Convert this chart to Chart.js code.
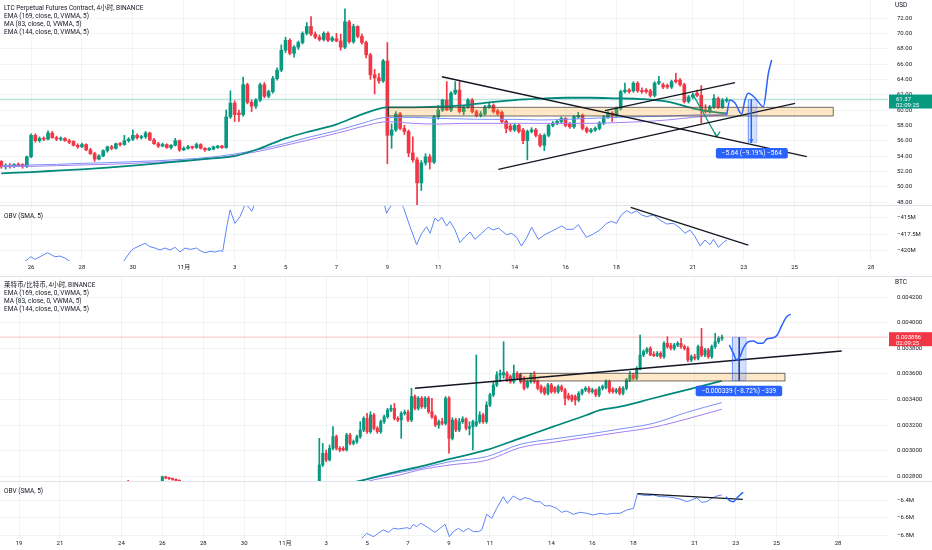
<!DOCTYPE html>
<html>
<head>
<meta charset="utf-8">
<title>LTC / LTCBTC 4h</title>
<script src="https://cdn.jsdelivr.net/npm/chart.js@4.4.1/dist/chart.umd.min.js"></script>
<style>
  html, body { margin:0; padding:0; background:#ffffff; }
  body { width:932px; height:550px; position:relative; overflow:hidden; font-family: Roboto, "Noto Sans CJK SC", sans-serif; }
  .pane { position:absolute; left:0; width:932px; }
  .pane canvas { display:block; }
  .txt { position:absolute; font-size:6.5px; line-height:8px; color:#131722; white-space:nowrap; }
  .sep { position:absolute; left:0; width:932px; height:1px; background:#e0e3eb; }
</style>
</head>
<body>
<div class="pane" style="top:0;height:206px"><canvas id="ltcPriceC"></canvas></div>
<div class="pane" style="top:206px;height:71px"><canvas id="ltcObvC"></canvas></div>
<div class="pane" style="top:277px;height:205px"><canvas id="btcPriceC"></canvas></div>
<div class="pane" style="top:482px;height:68px"><canvas id="btcObvC"></canvas></div>
<div class="sep" style="top:205px"></div>
<div class="sep" style="top:276px"></div>
<div class="sep" style="top:481px"></div>
<div class="txt" style="left:4px;top:4px">LTC Perpetual Futures Contract, 4小时, BINANCE<br>EMA (169, close, 0, VWMA, 5)<br>MA (83, close, 0, VWMA, 5)<br>EMA (144, close, 0, VWMA, 5)</div>
<div class="txt" style="left:4px;top:212px">OBV (SMA, 5)</div>
<div class="txt" style="left:4px;top:281px">莱特币/比特币, 4小时, BINANCE<br>EMA (169, close, 0, VWMA, 5)<br>MA (83, close, 0, VWMA, 5)<br>EMA (144, close, 0, VWMA, 5)</div>
<div class="txt" style="left:4px;top:487px">OBV (SMA, 5)</div>
<div class="txt" style="left:895px;top:1px">USD</div>
<div class="txt" style="left:895px;top:278px">BTC</div>
<script>
// ---------- DATA (day numbers: Oct d = d, Nov d = 31 + d) ----------
const ltcTickDays   = [26,28,30,32,34,36,38,40,42,45,47,49,52,54,56,59];
const ltcTickLabels = ['26','28','30','11月','3','5','7','9','11','14','16','18','21','23','25','28'];
const btcTickDays   = [19,21,24,26,28,30,32,34,36,38,40,42,45,47,49,52,54,56,59];
const btcTickLabels = ['19','21','24','26','28','30','11月','3','5','7','9','11','14','16','18','21','23','25','28'];
const ltcPriceTicks = [48,50,52,54,56,58,60,62,64,66,68,70,72];
const ltcObvTicks   = [-420,-417.5,-415];
const btcPriceTicks = [0.0028,0.003,0.0032,0.0034,0.0036,0.0038,0.004,0.0042];
const btcObvTicks   = [-6.8,-6.6,-6.4];

// LTC 4h candles [open, high, low, close], first candle Oct 24 20:00
const ltcStart = 24.8333;
const ltcCandles = [
[53.3,53.4,52.4,52.6],[52.6,53.0,52.3,52.8],[52.8,53.0,52.4,52.6],[52.6,53.0,52.5,52.9],[52.9,53.1,52.6,52.8],[52.9,53.0,52.4,52.6],
[52.6,54.0,52.5,53.9],[53.9,56.9,53.8,56.7],[56.7,56.9,55.8,56.0],[56.0,56.5,55.8,56.3],[56.3,56.5,56.0,56.2],[56.2,57.3,56.1,57.0],
[57.0,57.2,56.3,56.4],[56.4,56.6,56.0,56.2],[56.2,56.5,56.0,56.3],[56.3,56.4,55.9,56.0],[56.0,56.2,55.6,55.8],[55.9,56.0,55.3,55.4],
[55.4,55.6,55.0,55.2],[55.2,55.7,55.1,55.5],[55.5,55.6,54.7,54.8],[54.8,55.0,54.2,54.3],[54.3,54.5,53.3,53.6],[53.6,54.2,53.5,54.0],
[54.0,54.8,53.9,54.7],[54.7,55.3,54.5,55.2],[55.2,55.4,54.8,55.0],[55.0,55.7,54.9,55.6],[55.6,55.8,55.3,55.5],[55.5,56.7,55.4,56.0],
[56.0,56.4,55.8,56.2],[56.2,57.4,56.0,56.7],[56.7,56.9,56.2,56.4],[56.4,56.7,56.2,56.5],[56.5,57.2,56.3,57.0],[57.0,57.1,56.0,56.1],
[56.1,56.3,55.5,55.6],[55.6,55.8,55.1,55.3],[55.3,55.7,55.2,55.5],[55.5,55.6,55.0,55.1],[55.1,55.5,54.9,55.4],[55.4,56.3,55.3,56.0],
[56.0,56.1,54.6,54.8],[54.8,55.2,54.7,55.0],[55.0,55.4,54.9,55.2],[55.2,55.3,54.9,55.1],[55.1,55.7,55.0,55.5],[55.5,55.6,54.9,55.0],
[55.0,55.1,54.6,54.8],[54.8,55.1,54.7,55.0],[54.9,55.3,54.8,55.2],[55.1,55.4,55.0,55.3],[55.3,55.4,55.0,55.1],[55.1,60.0,55.0,59.1],
[59.1,62.5,58.9,60.9],[60.9,61.2,58.5,59.4],[59.6,60.0,58.5,59.4],[59.4,64.3,59.2,63.3],[63.3,63.5,60.8,61.0],[61.0,61.3,59.8,60.5],
[60.5,61.5,60.2,61.3],[61.3,63.5,61.1,63.3],[63.3,63.6,61.6,61.8],[61.8,62.6,61.6,62.4],[62.4,64.4,62.2,64.1],[64.1,65.5,63.9,65.2],
[65.2,68.5,65.0,67.8],[67.8,69.5,67.5,69.1],[69.1,69.3,67.2,67.4],[67.4,68.4,66.9,68.2],[68.2,69.0,67.9,68.8],[68.8,70.2,68.6,70.0],
[70.0,71.4,69.8,70.9],[70.9,72.2,69.7,69.9],[69.9,70.2,69.3,69.5],[69.5,69.8,69.0,69.2],[69.2,70.2,69.0,70.0],[70.0,70.2,68.9,69.1],
[69.1,69.6,68.9,69.4],[69.3,70.0,68.9,69.0],[69.0,69.9,67.8,68.2],[68.2,73.2,68.0,71.5],[71.5,71.7,68.7,68.9],[68.9,71.2,68.7,70.9],
[70.9,71.0,69.4,69.6],[69.6,69.9,68.6,68.8],[68.8,69.0,66.8,67.2],[67.2,67.4,64.0,64.6],[64.6,65.3,62.1,64.2],[64.2,64.8,63.5,63.8],
[63.8,66.6,63.6,66.4],[66.4,68.8,53.0,56.7],[56.7,58.2,55.0,57.4],[57.4,59.8,57.2,59.5],[59.5,59.7,57.4,57.6],[57.6,58.0,56.8,57.2],
[57.2,57.4,53.9,54.4],[54.4,56.5,53.2,53.5],[53.5,53.8,47.4,50.5],[50.5,53.4,49.5,53.1],[53.1,54.3,52.8,53.9],[53.9,54.2,52.3,53.2],
[53.2,59.3,53.0,59.1],[59.1,60.6,58.8,60.0],[60.0,61.4,59.8,61.3],[61.3,63.7,59.9,60.0],[60.0,62.4,59.8,62.2],[62.2,63.7,62.0,62.6],
[62.6,63.7,59.6,59.8],[59.8,60.6,59.4,60.4],[60.4,61.5,60.2,61.3],[61.3,61.5,59.6,59.8],[59.8,60.0,59.1,59.3],[59.3,59.8,59.1,59.5],
[59.5,60.6,59.3,60.4],[60.4,60.9,60.2,60.6],[60.6,60.8,59.6,59.8],[59.9,60.1,59.3,59.5],[59.7,59.9,58.3,58.5],[58.5,58.7,57.0,57.6],
[57.9,58.2,57.2,57.4],[57.4,58.2,57.2,58.0],[58.0,58.2,57.0,57.2],[57.4,57.6,55.6,56.0],[56.0,57.4,53.5,57.2],[57.2,57.7,57.0,57.4],
[57.4,57.6,56.5,56.7],[56.7,56.9,55.2,55.4],[55.4,56.9,54.7,56.7],[56.7,58.2,56.5,58.0],[58.0,58.5,57.8,58.3],[58.3,58.7,58.1,58.5],
[58.5,59.1,58.3,58.9],[58.9,59.0,57.8,58.0],[58.2,58.4,57.6,57.8],[57.8,59.3,57.6,59.1],[59.1,59.7,58.9,59.3],[59.3,59.5,57.4,57.6],
[57.6,57.8,57.0,57.2],[57.2,57.6,57.0,57.4],[57.4,57.8,57.2,57.6],[57.6,58.5,57.4,58.3],[58.3,59.3,58.1,59.1],[59.1,59.8,58.9,59.6],
[59.6,59.8,58.5,59.3],[59.3,60.4,59.1,60.2],[60.2,62.6,60.0,62.4],[62.4,63.5,62.2,62.6],[62.6,62.8,62.2,62.4],[62.5,63.7,62.3,63.5],
[63.5,63.7,62.3,62.5],[62.5,62.9,62.2,62.4],[62.6,62.8,62.2,62.4],[62.5,62.7,61.7,61.9],[61.9,63.7,61.7,63.5],[63.5,64.4,63.3,63.7],
[63.3,63.5,62.8,63.0],[63.2,63.4,62.8,63.0],[63.0,63.9,62.8,63.7],[63.9,64.8,63.5,63.7],[63.9,64.1,63.1,63.3],[63.3,63.5,60.9,61.1],
[61.1,61.9,60.9,61.7],[61.7,62.2,61.5,62.0],[62.2,62.6,61.7,61.9],[61.9,63.2,58.3,60.0],[60.0,60.7,59.6,59.8],[59.8,60.6,59.6,60.4],
[60.4,62.0,60.2,61.5],[61.5,61.7,60.2,60.4],[60.4,61.5,60.2,61.3],[61.2,61.6,61.0,61.37]
];
const ltcMaDays = [24.83,26,27,28,29,30,31,32,33,34,35,36,37,38,39,40,41,42,43,44,45,46,47,48,49,50,51,52,53,53.33];
const ltcEma169 = [51.74,51.91,52.09,52.26,52.48,52.74,53.04,53.35,53.65,54.0,55.0,56.3,57.26,58.13,59.43,60.35,60.35,60.43,60.6,61.0,61.3,61.48,61.6,61.6,61.52,61.43,61.09,60.22,59.65,59.57];
const ltcMa83   = [52.74,52.83,52.91,53.04,53.13,53.26,53.39,53.57,53.83,54.26,54.87,55.65,56.52,57.3,58.26,59.04,59.04,58.91,58.83,58.78,58.78,58.7,58.78,58.91,59.04,59.13,59.22,59.35,59.4,59.43];
const ltcEma144 = [52.61,52.65,52.74,52.83,52.91,53.04,53.22,53.39,53.65,54.09,54.65,55.39,56.17,56.96,57.83,58.48,58.26,58.17,58.26,58.26,58.26,58.26,58.26,58.26,58.35,58.48,58.7,59.04,59.3,59.35];
const ltcObvDays = [25.57,25.83,25.985,26.155,26.35,26.65,26.94,27.14,27.33,27.53,27.92,28.71,29.36,29.63,29.95,30.08,30.48,30.67,30.87,31.07,31.26,31.46,31.66,31.85,32.05,32.25,32.51,32.64,32.83,33.03,33.23,33.42,33.53,33.69,33.82,34.01,34.21,34.41,34.54,34.67,34.80,35.26,36.57,37.88,39.19,39.84,39.97,40.10,40.37,40.63,40.89,41.15,41.35,41.54,41.68,41.87,42.00,42.14,42.33,42.46,42.66,42.85,43.05,43.25,43.44,43.70,43.96,44.16,44.36,44.68,44.88,45.08,45.27,45.47,45.67,45.93,46.19,46.45,46.85,47.04,47.30,47.50,47.82,48.09,48.35,48.61,48.81,49.00,49.20,49.40,49.59,49.79,49.99,50.19,50.45,50.71,50.97,51.24,51.50,51.69,51.89,52.09,52.29,52.48,52.68,52.81,53.01,53.21,53.34];
const ltcObv = [-422.0,-421.4,-420.9,-421.3,-420.9,-420.3,-420.9,-420.8,-421.1,-421.6,-422.3,-422.8,-422.0,-421.6,-419.9,-419.6,-418.9,-419.4,-419.6,-419.9,-419.6,-419.9,-419.5,-420.2,-419.6,-419.8,-419.6,-420.0,-420.3,-420.1,-420.2,-420.0,-420.1,-416.4,-413.9,-415.9,-414.9,-413.1,-413.4,-414.1,-412.8,-411.5,-410.5,-410.0,-410.8,-412.5,-414.4,-413.5,-412.5,-413.5,-416.4,-419.1,-417.4,-416.4,-417.4,-415.1,-415.6,-415.0,-416.3,-415.6,-416.9,-418.8,-417.9,-417.2,-418.3,-417.4,-416.5,-416.9,-416.6,-417.6,-417.4,-418.0,-419.3,-418.1,-416.5,-418.3,-417.6,-417.1,-416.3,-416.8,-416.8,-416.1,-418.0,-417.5,-416.9,-415.9,-415.6,-415.9,-414.6,-414.0,-414.4,-414.05,-414.65,-414.9,-414.65,-415.4,-416.0,-415.9,-416.6,-417.4,-416.9,-417.9,-419.3,-418.4,-419.1,-418.3,-419.5,-418.7,-418.4];
// LTC drawings: [[day, price], ...]
const ltcTrendLines = [
  [[42.14,64.34],[56.48,53.91]],
  [[44.36,52.26],[56.02,60.87]],
  [[48.55,59.91],[53.66,63.56]]
];
const ltcZone = [40.04, 57.52, 59.22, 60.35];            // day from, day to, price low, price high
const ltcArrow = [[52.02,61.96],[52.94,56.52]];
const ltcArrowHead = [[52.86,57.05],[52.94,56.52],[53.07,57.17]];
const ltcPath = [[53.33,59.35],[53.46,61.3],[53.66,60.91],[53.92,59.48],[54.05,61.3],[54.18,62.18],[54.45,61.57],[54.77,60.43],[54.97,64.79],[55.10,66.52]];
const ltcMeasure = [54.18, 54.52, 55.73, 61.37];
const ltcMeasureDay = 54.30;
const ltcMeasureLabel = {text:'−5.64 (−9.19%) −564', x:54.32, y:54.35};
const ltcObvLine = [[49.56,-413.5],[54.18,-419.15]];

// LTC/BTC 4h candles
const btcEarlyTimes = [24.333,26.0,26.167,26.333,26.5,26.667,26.833];
const btcEarlyCandles = [
[0.002760,0.002768,0.002740,0.002750],[0.002730,0.002800,0.002720,0.002796],[0.002795,0.002800,0.002780,0.002786],
[0.002788,0.002792,0.002775,0.002780],[0.002782,0.002786,0.002768,0.002774],[0.002776,0.002780,0.002760,0.002766],
[0.002768,0.002772,0.002740,0.002750]
];
const btcStart = 33.6667;
const btcCandles = [
[0.002710,0.003096,0.002680,0.002888],[0.002888,0.003057,0.002875,0.002979],[0.002979,0.003005,0.002914,0.002927],[0.002927,0.003044,0.002919,0.003018],
[0.003018,0.003187,0.003005,0.003109],[0.003109,0.003122,0.003005,0.003018],[0.003018,0.003031,0.002992,0.003005],[0.003018,0.003031,0.002997,0.003005],
[0.003005,0.003135,0.002997,0.003122],[0.003122,0.003135,0.003044,0.003057],[0.003057,0.003083,0.003044,0.003070],[0.003070,0.003122,0.003057,0.003109],
[0.003109,0.003226,0.003096,0.003161],[0.003161,0.003265,0.003148,0.003252],[0.003252,0.003291,0.003135,0.003148],[0.003148,0.003304,0.003135,0.003278],
[0.003278,0.003291,0.003161,0.003174],[0.003174,0.003187,0.003135,0.003148],[0.003148,0.003239,0.003135,0.003226],[0.003226,0.003278,0.003213,0.003265],
[0.003265,0.003330,0.003252,0.003317],[0.003317,0.003356,0.003304,0.003330],[0.003330,0.003369,0.003239,0.003252],[0.003252,0.003265,0.003226,0.003239],
[0.003239,0.003304,0.003096,0.003291],[0.003291,0.003317,0.003278,0.003300],[0.003300,0.003317,0.003226,0.003239],[0.003239,0.003487,0.003226,0.003422],
[0.003422,0.003435,0.003317,0.003330],[0.003330,0.003422,0.003317,0.003409],[0.003409,0.003422,0.003330,0.003343],[0.003343,0.003422,0.003330,0.003409],
[0.003409,0.003422,0.003291,0.003304],[0.003304,0.003409,0.003252,0.003265],[0.003265,0.003278,0.003187,0.003200],[0.003200,0.003239,0.003174,0.003226],
[0.003226,0.003252,0.003200,0.003213],[0.003213,0.003422,0.003200,0.003409],[0.003409,0.003422,0.002979,0.003096],[0.003096,0.003257,0.003083,0.003239],
[0.003239,0.003252,0.003148,0.003161],[0.003161,0.003252,0.003148,0.003226],[0.003226,0.003265,0.003213,0.003247],[0.003247,0.003257,0.003161,0.003174],
[0.003174,0.003226,0.003122,0.003187],[0.003187,0.003239,0.003005,0.003226],[0.003200,0.003747,0.003187,0.003226],[0.003226,0.003304,0.003213,0.003278],
[0.003278,0.003291,0.003213,0.003226],[0.003226,0.003382,0.003213,0.003356],[0.003356,0.003448,0.003343,0.003435],[0.003435,0.003539,0.003422,0.003513],
[0.003513,0.003617,0.003500,0.003591],[0.003591,0.003630,0.003539,0.003604],[0.003591,0.003851,0.003565,0.003610],[0.003604,0.003617,0.003539,0.003552],
[0.003578,0.003591,0.003526,0.003539],[0.003539,0.003669,0.003526,0.003604],[0.003604,0.003617,0.003552,0.003565],[0.003591,0.003604,0.003526,0.003539],
[0.003565,0.003578,0.003474,0.003487],[0.003500,0.003552,0.003487,0.003539],[0.003539,0.003604,0.003526,0.003591],[0.003591,0.003617,0.003526,0.003539],
[0.003544,0.003552,0.003474,0.003487],[0.003500,0.003513,0.003448,0.003461],[0.003487,0.003500,0.003435,0.003448],[0.003448,0.003526,0.003435,0.003513],
[0.003513,0.003526,0.003448,0.003461],[0.003492,0.003500,0.003448,0.003461],[0.003461,0.003513,0.003448,0.003500],[0.003500,0.003513,0.003461,0.003474],
[0.003474,0.003487,0.003356,0.003409],[0.003429,0.003448,0.003395,0.003409],[0.003429,0.003435,0.003382,0.003395],[0.003422,0.003435,0.003356,0.003395],
[0.003395,0.003461,0.003382,0.003448],[0.003448,0.003481,0.003435,0.003474],[0.003474,0.003500,0.003461,0.003487],[0.003487,0.003500,0.003448,0.003461],
[0.003461,0.003487,0.003448,0.003474],[0.003474,0.003481,0.003422,0.003435],[0.003435,0.003500,0.003422,0.003487],[0.003487,0.003513,0.003474,0.003500],
[0.003492,0.003552,0.003481,0.003539],[0.003539,0.003552,0.003448,0.003461],[0.003481,0.003492,0.003448,0.003461],[0.003461,0.003487,0.003448,0.003474],
[0.003487,0.003500,0.003435,0.003448],[0.003448,0.003500,0.003435,0.003487],[0.003487,0.003565,0.003474,0.003552],[0.003552,0.003617,0.003539,0.003591],
[0.003591,0.003604,0.003552,0.003565],[0.003565,0.003656,0.003552,0.003643],[0.003643,0.003903,0.003630,0.003747],[0.003747,0.003786,0.003734,0.003773],
[0.003773,0.003804,0.003760,0.003794],[0.003799,0.003812,0.003742,0.003747],[0.003752,0.003773,0.003734,0.003742],[0.003742,0.003773,0.003734,0.003760],
[0.003760,0.003773,0.003721,0.003734],[0.003734,0.003851,0.003721,0.003838],[0.003838,0.003890,0.003799,0.003812],[0.003820,0.003838,0.003786,0.003799],
[0.003799,0.003838,0.003786,0.003825],[0.003825,0.003851,0.003812,0.003838],[0.003838,0.003877,0.003799,0.003812],[0.003812,0.003825,0.003786,0.003799],
[0.003799,0.003812,0.003695,0.003708],[0.003708,0.003747,0.003695,0.003734],[0.003734,0.003752,0.003708,0.003721],[0.003721,0.003825,0.003708,0.003812],
[0.003812,0.003955,0.003734,0.003747],[0.003747,0.003799,0.003734,0.003786],[0.003786,0.003799,0.003721,0.003734],[0.003734,0.003825,0.003721,0.003812],
[0.003812,0.003916,0.003799,0.003851],[0.003851,0.003890,0.003838,0.003877],[0.003877,0.003903,0.003860,0.003886]
];
const btcEma169Days = [34.35,35.49,37.61,38.58,40.05,41.84,43.47,45.09,46.72,47.37,48.35,49.98,51.61,53.32];
const btcEma169     = [0.00272,0.002757,0.002841,0.002875,0.002935,0.003005,0.003096,0.003187,0.003278,0.003317,0.003343,0.003409,0.003474,0.003544];
const btcMa83Days   = [34.35,35.49,37.61,38.58,40.05,41.84,43.47,45.09,46.72,48.35,49.98,51.61,53.32];
const btcMa83       = [0.002705,0.002757,0.00283,0.00286,0.002914,0.002953,0.003049,0.003091,0.003127,0.003169,0.003213,0.003299,0.003375];
const btcEma144Days = [35.16,35.97,37.61,38.58,40.05,41.84,43.47,45.09,46.72,48.35,49.98,51.61,53.32];
const btcEma144     = [0.002705,0.002757,0.00281,0.00285,0.002888,0.002924,0.003023,0.003065,0.003104,0.003143,0.003182,0.003247,0.003323];
const btcObvDays = [35.5,35.82,35.98,36.31,36.55,36.79,37.04,37.28,37.53,37.77,37.97,38.10,38.26,38.42,38.62,38.83,39.07,39.32,39.56,39.81,40.02,40.21,40.46,40.70,40.94,41.19,41.43,41.60,41.84,42.09,42.33,42.65,42.85,43.14,43.47,43.71,43.96,44.20,44.45,44.69,44.93,45.26,45.50,45.75,46.07,46.40,46.73,47.05,47.38,47.70,48.03,48.35,48.68,49.01,49.20,49.41,49.66,49.98,50.31,50.63,50.96,51.28,51.61,51.85,52.10,52.34,52.59,52.83,53.08,53.32];
const btcObv = [-6.88,-6.816,-6.777,-6.816,-6.777,-6.739,-6.766,-6.720,-6.728,-6.720,-6.713,-6.728,-6.675,-6.701,-6.663,-6.690,-6.728,-6.766,-6.720,-6.675,-6.816,-6.758,-6.720,-6.758,-6.720,-6.758,-6.758,-6.739,-6.560,-6.606,-6.492,-6.359,-6.435,-6.351,-6.397,-6.370,-6.385,-6.416,-6.416,-6.465,-6.461,-6.492,-6.537,-6.522,-6.560,-6.537,-6.549,-6.568,-6.549,-6.560,-6.549,-6.549,-6.511,-6.492,-6.328,-6.339,-6.347,-6.339,-6.359,-6.359,-6.370,-6.385,-6.416,-6.397,-6.370,-6.423,-6.416,-6.377,-6.351,-6.339];
const btcTrendLine = [[38.34,0.003487],[59.18,0.003778]];
const btcZone = [43.47, 56.41, 0.003544, 0.003604];
const btcPath = [[53.69,0.003825],[53.89,0.003760],[54.05,0.003708],[54.21,0.003734],[54.37,0.003799],[54.62,0.003851],[54.86,0.003856],[55.11,0.003838],[55.32,0.003838],[55.52,0.003872],[55.84,0.003882],[56.03,0.003903],[56.25,0.003976],[56.49,0.004046],[56.69,0.004065]];
const btcMeasure = [53.84, 54.51, 0.003547, 0.003886];
const btcMeasureDay = 54.175;
const btcMeasureLabel = {text:'−0.000339 (−8.72%) −339', x:54.16, y:0.003466};
const btcObvLine = [[49.2,-6.325],[54.35,-6.389]];
const btcObvPath = [[53.53,-6.359],[53.73,-6.408],[53.89,-6.416],[54.05,-6.377],[54.21,-6.339],[54.37,-6.309]];
const countdown = '02:09:25';

// ---------- RENDERING ----------
const FONT = 'Roboto, "Noto Sans CJK SC", sans-serif';
const GRID = 'rgba(42,46,57,0.06)';
const TEXT = '#131722';
const UP = '#089981', DOWN = '#f23645';
const DRAW_BLUE = '#2962ff';

const pts = (days, vals) => days.map((d, i) => ({x: d, y: vals[i]}));
const pairPts = arr => arr.map(p => ({x: p[0], y: p[1]}));
const rectPts = r => [{x:r[0],y:r[2]},{x:r[1],y:r[2]},{x:r[1],y:r[3]},{x:r[0],y:r[3]},{x:r[0],y:r[2]}];

function candleSets(times, candles, bodyW) {
  const colors = candles.map(c => c[3] >= c[0] ? UP : DOWN);
  return [
    {type:'bar', data: candles.map((c,i) => ({x: times[i], y: [c[2], c[1]]})), backgroundColor: colors,
     barThickness: 1, maxBarThickness: 1, grouped: false, order: 20},
    {type:'bar', data: candles.map((c,i) => ({x: times[i], y: [c[0], c[3]]})), backgroundColor: colors,
     barThickness: bodyW, maxBarThickness: bodyW, grouped: false, minBarLength: 1, order: 19}
  ];
}
function lineSet(data, color, width, extra) {
  return Object.assign({type:'line', data: data, borderColor: color, borderWidth: width, pointRadius: 0,
    pointHoverRadius: 0, fill: false, tension: 0, order: 5}, extra || {});
}
const smooth = {cubicInterpolationMode: 'monotone'};

const overlayPlugin = {
  id: 'overlay',
  afterDatasetsDraw(chart, args, opts) {
    const labels = (opts && opts.labels) || [];
    if (!labels.length) return;
    const ctx = chart.ctx, xs = chart.scales.x, ys = chart.scales.y;
    ctx.save();
    ctx.font = '6.5px ' + FONT;
    labels.forEach(l => {
      const cx = xs.getPixelForValue(l.x), cy = ys.getPixelForValue(l.y);
      const w = ctx.measureText(l.text).width + 12, h = 10.5;
      ctx.fillStyle = DRAW_BLUE;
      ctx.beginPath(); ctx.roundRect(cx - w / 2, cy - h / 2, w, h, 2); ctx.fill();
      ctx.fillStyle = '#ffffff'; ctx.textAlign = 'center'; ctx.textBaseline = 'middle';
      ctx.fillText(l.text, cx, cy + 0.5);
    });
    ctx.restore();
  },
  afterDraw(chart, args, opts) {
    const t = opts && opts.tag;
    if (!t) return;
    const ctx = chart.ctx, ca = chart.chartArea, ys = chart.scales.y;
    const py = ys.getPixelForValue(t.value);
    ctx.save();
    ctx.fillStyle = t.color;
    ctx.fillRect(ca.right + 1, py - 5, chart.width - ca.right - 1, 14);
    ctx.fillStyle = '#ffffff'; ctx.font = '6px ' + FONT; ctx.textBaseline = 'middle'; ctx.textAlign = 'left';
    ctx.fillText(t.lines[0], ca.right + 8, py);
    ctx.fillText(t.lines[1], ca.right + 8, py + 6);
    ctx.restore();
  }
};

function makeChart(id, o) {
  return new Chart(document.getElementById(id), {
    type: 'bar',
    data: { datasets: o.datasets },
    plugins: [overlayPlugin],
    options: {
      responsive: true, maintainAspectRatio: false, animation: false, events: [],
      layout: { padding: 0 },
      plugins: { legend: {display: false}, tooltip: {enabled: false}, overlay: o.overlay || {} },
      scales: {
        x: {
          type: 'linear', min: o.xMin, max: o.xMax, offset: false,
          grid: { color: GRID, drawTicks: false, offset: false },
          border: { display: false },
          ticks: { display: !!o.xLabels, autoSkip: false, maxRotation: 0, padding: o.xPad || 3, color: TEXT,
                   font: {family: FONT, size: 6}, callback: (v, i) => o.xLabels ? o.xLabels[i] : '' },
          afterBuildTicks: s => { s.ticks = o.xTicks.map(v => ({value: v})); },
          afterFit: s => { s.height = o.xHeight || 0; s.paddingLeft = 0; s.paddingRight = 0; }
        },
        y: {
          type: 'linear', position: 'right', min: o.yMin, max: o.yMax,
          grid: { color: GRID, drawTicks: false },
          border: { display: false },
          ticks: { padding: 9, color: TEXT, font: {family: FONT, size: 6}, callback: o.yFmt, autoSkip: false },
          afterBuildTicks: s => { s.ticks = o.yTicks.map(v => ({value: v})); },
          afterFit: s => { s.width = 44; s.paddingTop = 0; s.paddingBottom = 0; }
        }
      }
    }
  });
}

const ltcX = [24.78, 59.67], btcX = [18.072, 61.44];
const ltcTimes = ltcCandles.map((c, i) => ltcStart + i / 6);
const btcTimes = btcCandles.map((c, i) => btcStart + i / 6);
const ltcLast = ltcCandles[ltcCandles.length - 1][3];
const btcLast = btcCandles[btcCandles.length - 1][3];
const obvFmt = v => '−' + Math.abs(v) + 'M';

// Top: LTC price
makeChart('ltcPriceC', {
  xMin: ltcX[0], xMax: ltcX[1], xTicks: ltcTickDays,
  yMin: 47.48, yMax: 74.35, yTicks: ltcPriceTicks, yFmt: v => v.toFixed(2),
  overlay: { labels: [ltcMeasureLabel], tag: {value: ltcLast, color: UP, lines: [ltcLast.toFixed(2), countdown]} },
  datasets: [
    ...candleSets(ltcTimes, ltcCandles, 3),
    lineSet([{x: ltcX[0], y: ltcLast}, {x: ltcX[1], y: ltcLast}], 'rgba(8,153,129,0.28)', 1.5, {order: 9}),
    lineSet(pts(ltcMaDays, ltcEma144), '#a47ff0', 1, Object.assign({order: 8}, smooth)),
    lineSet(pts(ltcMaDays, ltcMa83), '#7a8ff7', 1, Object.assign({order: 8}, smooth)),
    lineSet(pts(ltcMaDays, ltcEma169), '#00897b', 1.8, Object.assign({order: 7}, smooth)),
    lineSet(rectPts(ltcZone), 'rgba(60,60,60,0.75)', 1, {fill: 'shape', backgroundColor: 'rgba(255,152,0,0.22)', order: 4}),
    ...ltcTrendLines.map(l => lineSet(pairPts(l), '#131722', 1.3, {order: 3})),
    lineSet(pairPts(ltcArrow), UP, 1.3, {order: 3}),
    lineSet(pairPts(ltcArrowHead), UP, 1.3, {order: 3}),
    lineSet(rectPts(ltcMeasure), 'rgba(41,98,255,0.35)', 0.8, {fill: 'shape', backgroundColor: 'rgba(41,98,255,0.2)', order: 2}),
    lineSet([{x: ltcMeasureDay, y: ltcMeasure[3]}, {x: ltcMeasureDay, y: ltcMeasure[2]}], DRAW_BLUE, 1, {order: 2}),
    lineSet([{x: ltcMeasureDay - 0.06, y: ltcMeasure[2] + 0.5}, {x: ltcMeasureDay, y: ltcMeasure[2]}, {x: ltcMeasureDay + 0.06, y: ltcMeasure[2] + 0.5}], DRAW_BLUE, 1, {order: 2}),
    lineSet(pairPts(ltcPath), DRAW_BLUE, 1.5, Object.assign({order: 1}, smooth))
  ]
});

// Top: LTC OBV
makeChart('ltcObvC', {
  xMin: ltcX[0], xMax: ltcX[1], xTicks: ltcTickDays, xLabels: ltcTickLabels, xHeight: 16, xPad: 3,
  yMin: -421.54, yMax: -413.31, yTicks: ltcObvTicks, yFmt: obvFmt,
  datasets: [
    lineSet(pts(ltcObvDays, ltcObv), '#5d86f6', 1, {order: 5}),
    lineSet(pairPts(ltcObvLine), '#131722', 1.3, {order: 2})
  ]
});

// Bottom: LTC/BTC price
makeChart('btcPriceC', {
  xMin: btcX[0], xMax: btcX[1], xTicks: btcTickDays,
  yMin: 0.0027547, yMax: 0.0043563, yTicks: btcPriceTicks, yFmt: v => v.toFixed(6),
  overlay: { labels: [btcMeasureLabel], tag: {value: btcLast, color: DOWN, lines: [btcLast.toFixed(6), countdown]} },
  datasets: [
    ...candleSets(btcEarlyTimes, btcEarlyCandles, 2.4),
    ...candleSets(btcTimes, btcCandles, 2.4),
    lineSet([{x: btcX[0], y: btcLast}, {x: btcX[1], y: btcLast}], 'rgba(242,54,69,0.25)', 1.2, {order: 9}),
    lineSet(pts(btcEma144Days, btcEma144), '#a47ff0', 1, Object.assign({order: 8}, smooth)),
    lineSet(pts(btcMa83Days, btcMa83), '#7a8ff7', 1, Object.assign({order: 8}, smooth)),
    lineSet(pts(btcEma169Days, btcEma169), '#00897b', 1.8, Object.assign({order: 7}, smooth)),
    lineSet(rectPts(btcZone), 'rgba(60,60,60,0.75)', 1, {fill: 'shape', backgroundColor: 'rgba(255,152,0,0.22)', order: 4}),
    lineSet(pairPts(btcTrendLine), '#131722', 1.3, {order: 3}),
    lineSet(rectPts(btcMeasure), 'rgba(41,98,255,0.35)', 0.8, {fill: 'shape', backgroundColor: 'rgba(41,98,255,0.2)', order: 2}),
    lineSet([{x: btcMeasureDay, y: btcMeasure[3]}, {x: btcMeasureDay, y: btcMeasure[2]}], '#1e3a8a', 1, {order: 2}),
    lineSet(pairPts(btcPath), DRAW_BLUE, 1.5, Object.assign({order: 1}, smooth))
  ]
});

// Bottom: LTC/BTC OBV
makeChart('btcObvC', {
  xMin: btcX[0], xMax: btcX[1], xTicks: btcTickDays, xLabels: btcTickLabels, xHeight: 12, xPad: 1.5,
  yMin: -6.831, yMax: -6.191, yTicks: btcObvTicks, yFmt: obvFmt,
  datasets: [
    lineSet(pts(btcObvDays, btcObv), '#5d86f6', 1, {order: 5}),
    lineSet(pairPts(btcObvLine), '#131722', 1.3, {order: 2}),
    lineSet(pairPts(btcObvPath), DRAW_BLUE, 1.5, Object.assign({order: 1}, smooth))
  ]
});
</script>
</body>
</html>
